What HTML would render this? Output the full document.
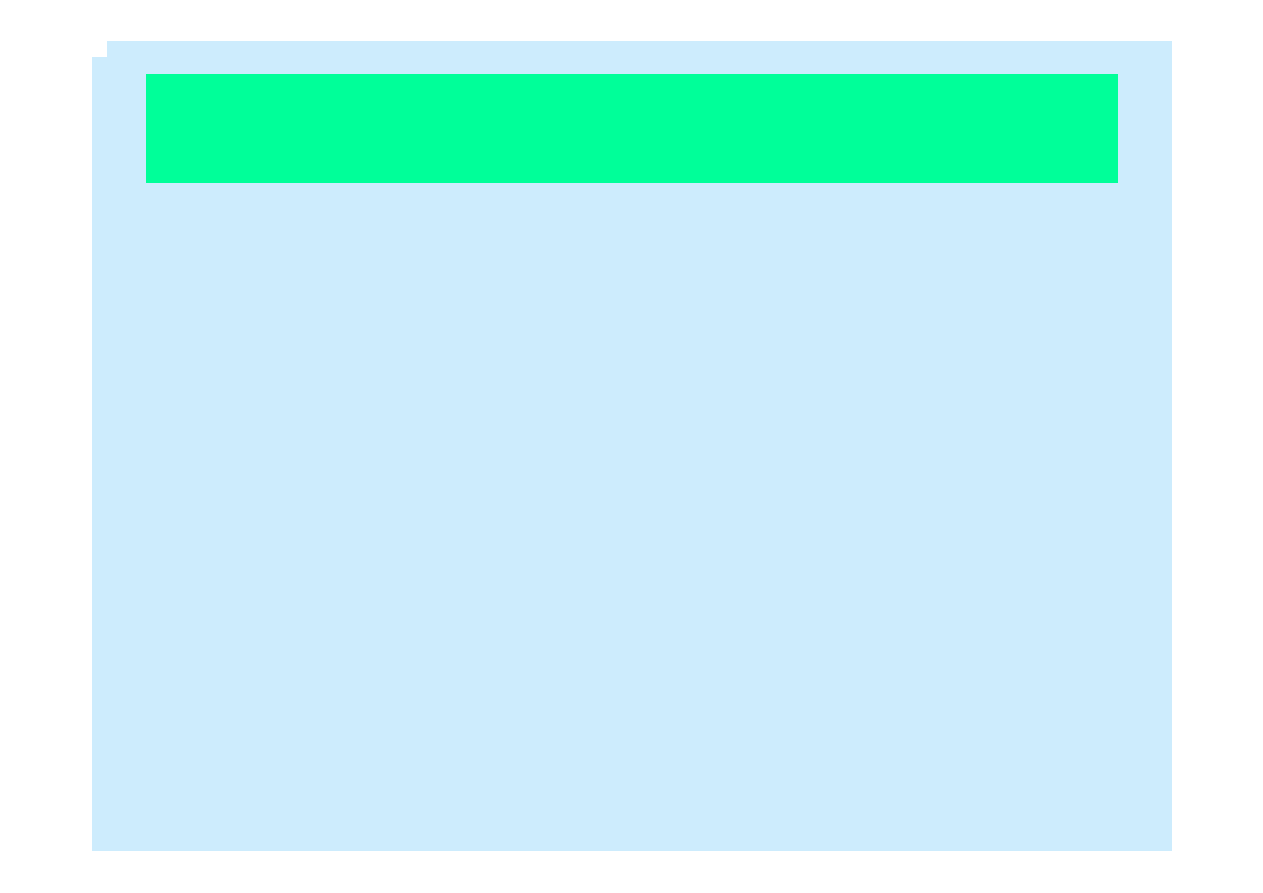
<!DOCTYPE html>
<html><head><meta charset="utf-8"><style>
html,body{margin:0;padding:0;background:#fff;width:1263px;height:893px;overflow:hidden;position:relative}
div{position:absolute}
</style></head><body>
<div style="left:107px;top:41px;width:1065px;height:810px;background:#cdecfd"></div>
<div style="left:92px;top:57px;width:20px;height:794px;background:#cdecfd"></div>
<div style="left:146px;top:74px;width:972px;height:109px;background:#00ff99"></div>
</body></html>
